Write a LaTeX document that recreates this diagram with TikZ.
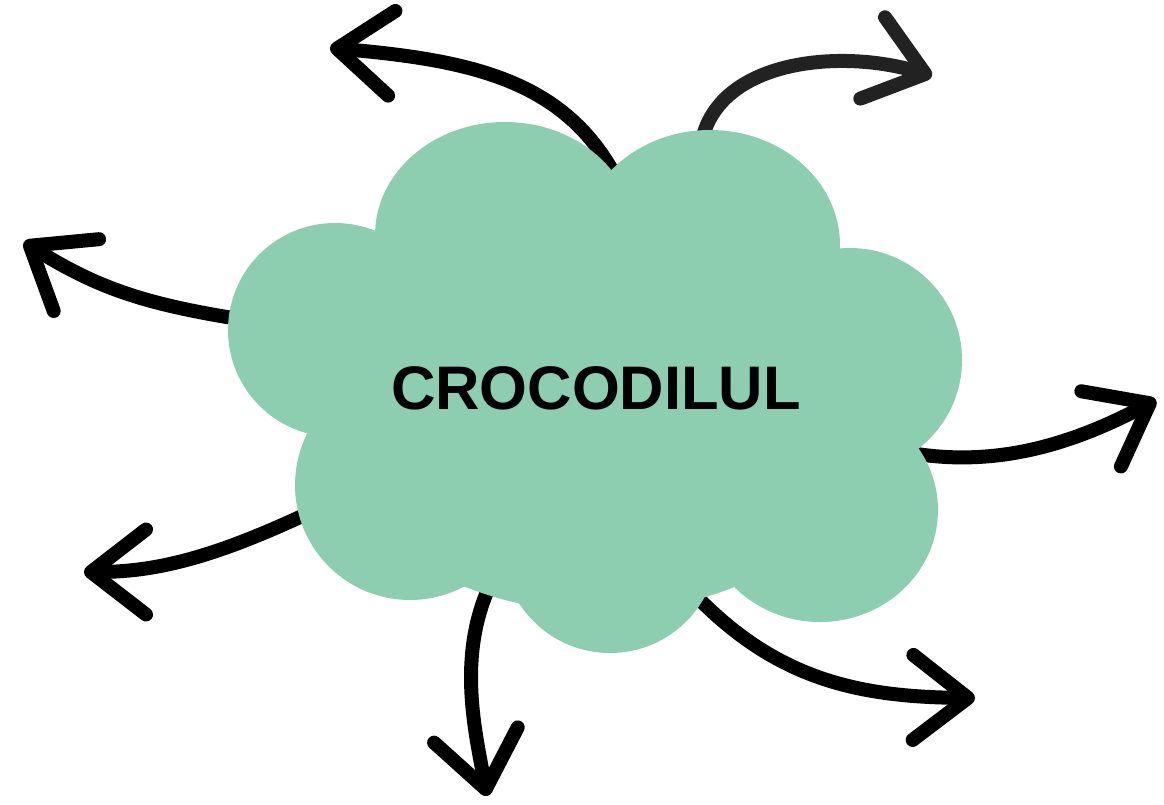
\documentclass[tikz,border=0pt]{standalone}
\usepackage{fontspec}
\setmainfont{Liberation Sans}
\usetikzlibrary{arrows.meta}
\definecolor{cloudgreen}{HTML}{8DCDB0}
\definecolor{inkgray}{HTML}{222222}
\tikzset{
  brush/.style={line width=0.28cm,line cap=round,
    -{Straight Barb[length=1.1cm,width=1.7cm,line cap=round,line join=round]}},
  lobe/.style={fill=cloudgreen,draw=none}
}
\begin{document}
\begin{tikzpicture}[x=0.02cm,y=-0.02cm]
\useasboundingbox (0,0) rectangle (1164,805);
% arrow ends
\coordinate (s1) at (612,170);  \coordinate (e1) at (330,48);
\coordinate (s2) at (702,140);  \coordinate (e2) at (932,76);
\coordinate (s3) at (245,320);  \coordinate (e3) at (24,242);
\coordinate (s4) at (905,452);  \coordinate (e4) at (1156,400);
\coordinate (s5) at (315,510);  \coordinate (e5) at (84,572);
\coordinate (s6) at (495,575);  \coordinate (e6) at (487,796);
\coordinate (s7) at (700,600);  \coordinate (e7) at (975,698);
\draw[brush] (s1) .. controls (560,80) and (470,60) .. (e1);
\draw[brush,color=inkgray,line cap=butt] (s2) .. controls (720,60) and (840,48) .. (e2);
\draw[brush] (s3) .. controls (150,305) and (100,290) .. (e3);
\draw[brush] (s4) .. controls (1000,470) and (1080,440) .. (e4);
\draw[brush] (s5) .. controls (220,555) and (160,572) .. (e5);
\draw[brush] (s6) .. controls (455,650) and (475,730) .. (e6);
\draw[brush] (s7) .. controls (780,680) and (860,697) .. (e7);
% cloud
\fill[lobe] (335,330) circle (107);
\fill[lobe] (505,235) ellipse (130 and 113);
\fill[lobe] (710,245) ellipse (130 and 115);
\fill[lobe] (850,360) circle (112);
\fill[lobe] (820,510) ellipse (118 and 112);
\fill[lobe] (610,545) circle (108);
\fill[lobe] (410,485) circle (115);
\fill[lobe] (600,420) ellipse (272 and 192);
\node[font=\bfseries\fontsize{35}{40}\selectfont] (cloud) at (596,388) {CROCODILUL};
\end{tikzpicture}
\end{document}
